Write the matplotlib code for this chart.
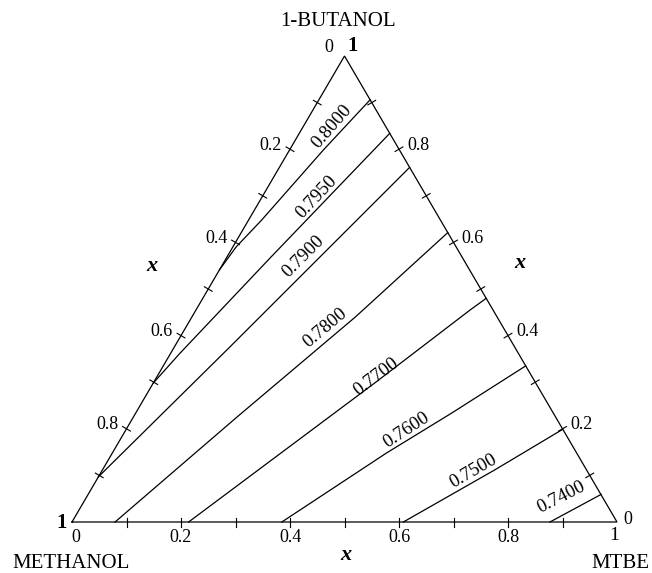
import numpy as np
import matplotlib
matplotlib.use("Agg")
import matplotlib.pyplot as plt

# ---------------- data (compositions) ----------------
# each contour: mole fraction of MTBE (bottom axis) and of 1-BUTANOL (right axis)
levels = ["0.8000", "0.7950", "0.7900", "0.7800", "0.7700", "0.7600", "0.7500", "0.7400"]

c8000_mtbe = [0.094, 0.062, 0.024, 0.006, 0.000]
c8000_buoh = [0.906, 0.798, 0.648, 0.590, 0.541]

c7950_mtbe = [0.166, 0.080, 0.017, 0.000]
c7950_buoh = [0.834, 0.566, 0.362, 0.298]

c7900_mtbe = [0.239, 0.102, 0.000]
c7900_buoh = [0.761, 0.376, 0.097]

c7800_mtbe = [0.079, 0.190, 0.300, 0.379]
c7800_buoh = [0.000, 0.225, 0.440, 0.621]

c7700_mtbe = [0.214, 0.408, 0.503, 0.520]
c7700_buoh = [0.000, 0.301, 0.455, 0.480]

c7600_mtbe = [0.385, 0.503, 0.580, 0.665]
c7600_buoh = [0.000, 0.148, 0.234, 0.335]

c7500_mtbe = [0.608, 0.720, 0.801]
c7500_buoh = [0.000, 0.112, 0.199]

c7400_mtbe = [0.877, 0.941]
c7400_buoh = [0.000, 0.059]

contours_mtbe = [c8000_mtbe, c7950_mtbe, c7900_mtbe, c7800_mtbe,
                 c7700_mtbe, c7600_mtbe, c7500_mtbe, c7400_mtbe]
contours_buoh = [c8000_buoh, c7950_buoh, c7900_buoh, c7800_buoh,
                 c7700_buoh, c7600_buoh, c7500_buoh, c7400_buoh]

tick_values = [0.1, 0.2, 0.3, 0.4, 0.5, 0.6, 0.7, 0.8, 0.9]
tick_label_values = [0.2, 0.4, 0.6, 0.8]
tick_label_texts = ["0.2", "0.4", "0.6", "0.8"]

vertex_names = ["1-BUTANOL", "METHANOL", "MTBE"]

# ---------------- layout ----------------
# contour label anchors (MTBE, BUTANOL) and rotation in degrees
label_layout = [(0.052, 0.848, 49), (0.100, 0.698, 47), (0.140, 0.569, 45),
                (0.256, 0.417, 40), (0.403, 0.312, 37), (0.515, 0.197, 33),
                (0.682, 0.108, 30), (0.871, 0.054, 27)]

W, H = 652, 573
plt.rcParams['font.family'] = ['Liberation Serif', 'DejaVu Serif']
fig = plt.figure(figsize=(W / 100, H / 100), dpi=100)
ax = fig.add_axes([72 / W, (H - 522) / H, 545 / W, 466 / H])
ax.set_xlim(0, 1)
ax.set_ylim(0, 1)
ax.axis('off')

LW = 0.9
INK = 'black'


def xy(b, t):
    b = np.asarray(b, float)
    t = np.asarray(t, float)
    return b + t / 2.0, t


def off(b, t, dx, dy):
    """data point of composition shifted by (dx, dy) pixels (dy up)."""
    X, Y = xy(b, t)
    px = ax.transData.transform((X, Y))
    return ax.transData.inverted().transform((px[0] + dx, px[1] + dy))


# triangle
tri_b = [0, 1, 0, 0]
tri_t = [0, 0, 1, 0]
X, Y = xy(tri_b, tri_t)
ax.plot(X, Y, color=INK, lw=LW, solid_joinstyle='miter', clip_on=False)


def tick(b, t, ux, uy, half=4.5):
    p1 = off(b, t, -ux * half, -uy * half)
    p2 = off(b, t, ux * half, uy * half)
    ax.plot([p1[0], p2[0]], [p1[1], p2[1]], color=INK, lw=LW * 0.9, clip_on=False)


def perp(b0, t0, b1, t1):
    a = ax.transData.transform(xy(b0, t0))
    c = ax.transData.transform(xy(b1, t1))
    d = c - a
    n = np.array([-d[1], d[0]])
    return n / np.hypot(*n)


nb = perp(0, 0, 1, 0)
nl = perp(0, 0, 0, 1)
nr = perp(1, 0, 0, 1)
for v in tick_values:
    tick(v, 0, *nb)          # bottom (MTBE)
    tick(0, 1 - v, *nl)      # left (METHANOL)
    tick(1 - v, v, *nr)      # right (1-BUTANOL)

# contour lines and labels
for cb, ct in zip(contours_mtbe, contours_buoh):
    X, Y = xy(cb, ct)
    ax.plot(X, Y, color=INK, lw=LW, clip_on=False, solid_joinstyle='round')

for lev, (lb, lt, rot) in zip(levels, label_layout):
    X, Y = xy(lb, lt)
    ax.text(X, Y, lev, fontsize=13.5, rotation=rot, rotation_mode='anchor',
            ha='center', va='center', color=INK)

# tick labels
TFS = 13
for v, s in zip(tick_label_values, tick_label_texts):
    p = off(v, 0, 0, -15)
    ax.text(p[0], p[1], s, fontsize=TFS, ha='center', va='center')
    p = off(0, 1 - v, -8, 4)
    ax.text(p[0], p[1], s, fontsize=TFS, ha='right', va='center')
    p = off(1 - v, v, 8, 4)
    ax.text(p[0], p[1], s, fontsize=TFS, ha='left', va='center')

# end labels
p = off(0, 1, -16, 9);  ax.text(p[0], p[1], "0", fontsize=TFS, ha='center', va='center')
p = off(0, 1, 8, 10);   ax.text(p[0], p[1], "1", fontsize=15, fontweight='bold', ha='center', va='center')
p = off(0, 0, -10, -1); ax.text(p[0], p[1], "1", fontsize=15, fontweight='bold', ha='center', va='center')
p = off(0, 0, 4, -16);  ax.text(p[0], p[1], "0", fontsize=TFS, ha='center', va='center')
p = off(1, 0, 11, 3);   ax.text(p[0], p[1], "0", fontsize=TFS, ha='center', va='center')
p = off(1, 0, -3, -14); ax.text(p[0], p[1], "1", fontsize=14, ha='center', va='center')

# vertex names
fig.text(338 / W, 1 - 21 / H, vertex_names[0], fontsize=15, ha='center', va='center')
fig.text(71 / W, 1 - 564 / H, vertex_names[1], fontsize=15, ha='center', va='center')
fig.text(620 / W, 1 - 563 / H, vertex_names[2], fontsize=15, ha='center', va='center')

# axis symbols
for (px_, py_) in [(152, 266), (520, 263), (346, 555)]:
    fig.text(px_ / W, 1 - py_ / H, "x", fontsize=16, fontweight='bold',
             fontstyle='italic', ha='center', va='center')

fig.savefig("out.png", dpi=100, facecolor='white')
